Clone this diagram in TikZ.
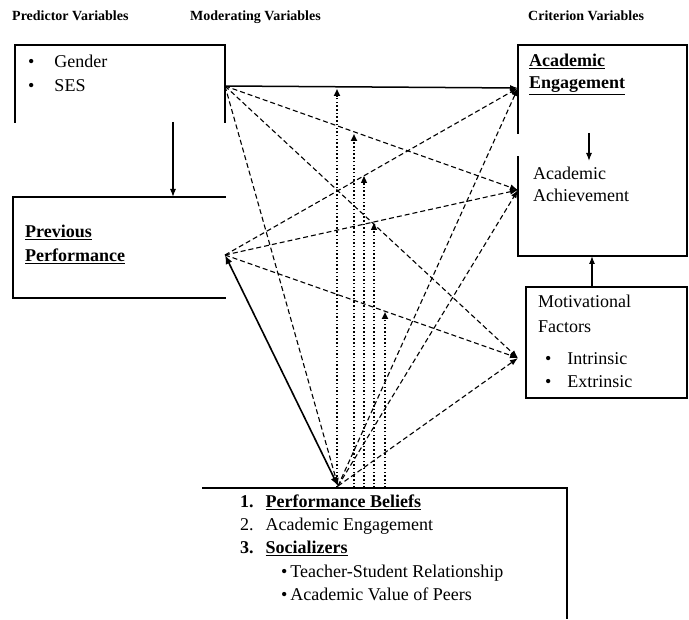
\documentclass[tikz,border=0pt]{standalone}
\usepackage{fontspec}
\setmainfont{Liberation Serif}
\usetikzlibrary{arrows.meta}
\begin{document}
\begin{tikzpicture}[x=1pt,y=-1pt,
  box/.style={line width=1.5pt, line cap=rect},
  txt/.style={anchor=base west, inner sep=0pt, font=\fontsize{18}{23}\selectfont},
  btxt/.style={txt, font=\fontsize{18}{23}\selectfont\bfseries},
  hdr/.style={anchor=base west, inner sep=0pt, font=\fontsize{14}{16}\selectfont\bfseries},
  arr/.style={-{Latex[length=8pt,width=6pt]}, line width=1.1pt},
  dsh/.style={arr, dash pattern=on 5pt off 3pt},
  vthick/.style={-{Triangle[length=7pt,width=6pt]}, line width=2pt, dash pattern=on 1.5pt off 2.2pt},
  vthin/.style={-{Triangle[length=7pt,width=6pt]}, line width=1.1pt, dash pattern=on 1.5pt off 2.2pt},
]
\useasboundingbox[fill=white] (0,0) rectangle (689,620);

% headers
\node[hdr] (hP) at (12,21) {Predictor Variables};
\node[hdr] (hM) at (190,21) {Moderating Variables};
\node[hdr] (hC) at (528,21) {Criterion Variables};

% predictor box (open at bottom)
\draw[box] (15,122) -- (15,45) -- (225,45) -- (225,122);
\node[txt] (g) at (28,68) {\textbullet\hspace{20pt}Gender};
\node[txt] (s) at (28,92) {\textbullet\hspace{20pt}SES};

% previous performance (open at right)
\draw[box] (225,197) -- (13,197) -- (13,298) -- (225,298);
\node[btxt] (pp1) at (25,238) {\underline{Previous}};
\node[btxt] (pp2) at (25,262) {\underline{Performance}};

% criterion box
\draw[box] (518,133) -- (518,45) -- (687,45) -- (687,256) -- (518,256) -- (518,157);
\node[btxt] (ae1) at (529,67) {\underline{Academic}};
\node[btxt] (ae2) at (529,89) {\underline{Engagement}};
\node[txt] (aa1) at (533,180) {Academic};
\node[txt] (aa2) at (533,202) {Achievement};

% motivational box
\draw[box] (526,287) rectangle (687,398);
\node[txt] (mf1) at (538,308) {Motivational};
\node[txt] (mf2) at (538,333) {Factors};
\node[txt] (mf3) at (545,365) {\textbullet\hspace{16pt}Intrinsic};
\node[txt] (mf4) at (545,388) {\textbullet\hspace{16pt}Extrinsic};

% moderating box (top and right only)
\draw[box] (203,488) -- (567,488) -- (567,618);
\node[txt] (b1) at (240,508) {\textbf{1.}\hspace{12pt}\textbf{\underline{Performance Beliefs}}};
\node[txt] (b2) at (240,531) {2.\hspace{12pt}Academic Engagement};
\node[txt] (b3) at (240,554) {\textbf{3.}\hspace{12pt}\textbf{\underline{Socializers}}};
\node[txt] (b4) at (281,577) {\textbullet\,Teacher-Student Relationship};
\node[txt] (b5) at (281,600) {\textbullet\,Academic Value of Peers};

% connection points
\coordinate (S) at (225,86);
\coordinate (PP) at (225,255);
\coordinate (AE) at (518,88);
\coordinate (AA) at (518,190);
\coordinate (MF) at (518,358);
\coordinate (B) at (338,486);
\coordinate (pbot) at (173,122);
\coordinate (pptop) at (173,197);
\coordinate (aetop) at (589,133);
\coordinate (aabot) at (589,161);
\coordinate (mftop) at (592,287);
\coordinate (cbot) at (592,256);

% vertical arrows between boxes
\draw[arr] (pbot) -- (pptop);
\draw[arr] (aetop) -- (aabot);
\draw[arr] (mftop) -- (cbot);

% from predictors
\draw[arr, line width=1.5pt] (S) -- (AE);
\draw[dsh] (S) -- (AA);
\draw[dsh] (S) -- (MF);
\draw[dsh] (S) -- (B);

% from previous performance
\draw[dsh] (PP) -- (AE);
\draw[dsh] (PP) -- (AA);
\draw[dsh] (PP) -- (MF);
\draw[{Latex[length=9pt,width=7pt]}-{Latex[length=9pt,width=7pt]}, line width=1.6pt] (PP) -- (B);

% from moderating
\draw[dsh] (B) -- (AE);
\draw[dsh] (B) -- (AA);
\draw[dsh] (B) -- (MF);

% moderating dotted arrows
\coordinate (m1) at (337,488); \coordinate (t1) at (337,89);
\coordinate (m2) at (354,488); \coordinate (t2) at (354,134);
\coordinate (m3) at (364,488); \coordinate (t3) at (364,176);
\coordinate (m4) at (374,488); \coordinate (t4) at (374,223);
\coordinate (m5) at (385,488); \coordinate (t5) at (385,312);
\draw[vthick] (m1) -- (t1);
\draw[vthick] (m2) -- (t2);
\draw[vthin] (m3) -- (t3);
\draw[vthin] (m4) -- (t4);
\draw[vthick] (m5) -- (t5);
\end{tikzpicture}
\end{document}
